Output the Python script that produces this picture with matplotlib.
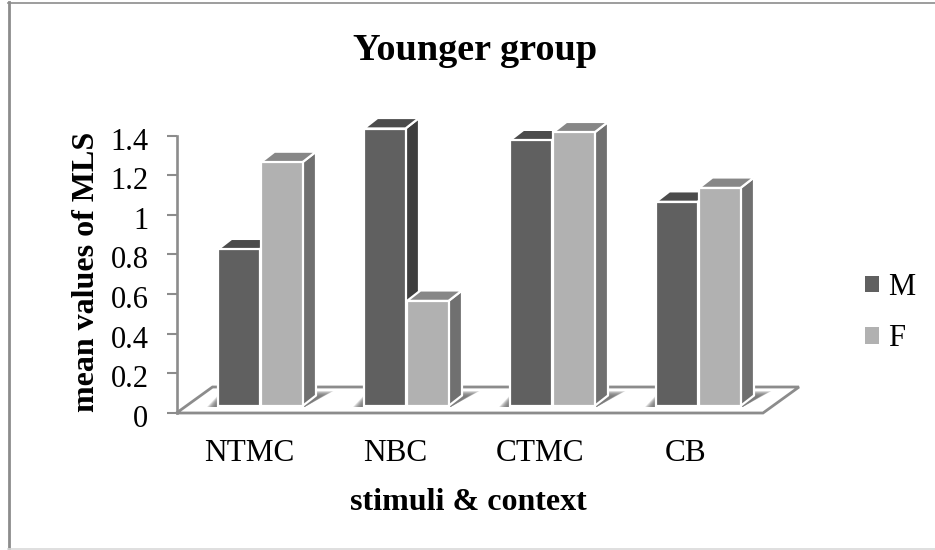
import matplotlib
matplotlib.use("Agg")
import matplotlib.pyplot as plt
from matplotlib.lines import Line2D
from matplotlib.patches import Polygon, Rectangle
from matplotlib.ticker import FixedLocator, FixedFormatter
from matplotlib.transforms import Affine2D

categories = ["NTMC", "NBC", "CTMC", "CB"]
series_names = ["M", "F"]
m_values = [0.79, 1.40, 1.34, 1.03]
f_values = [1.23, 0.53, 1.38, 1.10]
y_tick_values = [0, 0.2, 0.4, 0.6, 0.8, 1, 1.2, 1.4]
y_tick_labels = ["0", "0.2", "0.4", "0.6", "0.8", "1", "1.2", "1.4"]

W, H = 935, 550
plt.rcParams["font.family"] = ["Liberation Serif", "DejaVu Serif"]
fig = plt.figure(figsize=(W / 100, H / 100), dpi=100)

# plot area in pixels
L, R, T, B = 176.5, 758.5, 135.5, 413
ax = fig.add_axes([L / W, 1 - B / H, (R - L) / W, (B - T) / H])
ax.set_xlim(-0.5, 3.5)
ax.set_ylim(0, 1.4)
ax.patch.set_visible(False)
PX = 4 / (R - L)
PY = 1.4 / (B - T)

GREY = "#8c8c8c"
for s in ("top", "right", "bottom"):
    ax.spines[s].set_visible(False)
ax.spines["left"].set_color(GREY)
ax.spines["left"].set_linewidth(1.9)
ax.yaxis.set_major_locator(FixedLocator(y_tick_values))
ax.yaxis.set_major_formatter(FixedFormatter(y_tick_labels))
ax.tick_params(axis="y", direction="out", length=7.2, width=1.5, color=GREY, labelsize=22, pad=13)
ax.set_xticks(range(len(categories)), categories)
ax.tick_params(axis="x", length=0, labelsize=22.5, pad=18.5)
for lab in ax.get_yticklabels():
    lab.set_transform(lab.get_transform() + Affine2D().translate(0, -3))
ax.set_ylabel("mean values of MLS", fontsize=23, fontweight="bold")
ax.yaxis.label.set_verticalalignment("baseline")
ax.yaxis.set_label_coords((94 - L) / (R - L), (B - 271.5) / (B - T))
ax.set_xlabel("stimuli & context", fontsize=23, fontweight="bold")
ax.xaxis.label.set_verticalalignment("baseline")
ax.xaxis.set_label_coords((468 - L) / (R - L), (B - 510) / (B - T))
fig.text(475 / W, 1 - 60 / H, "Younger group", fontsize=27.5, fontweight="bold", ha="center", va="baseline")

# floor
floor_dx, floor_dy = 36 * PX, 26 * PY
floor_r = 3.5 + (763 - R) * PX
floor = Polygon([(-0.5, 0), (floor_r, 0), (floor_r + floor_dx, floor_dy), (-0.5 + floor_dx, floor_dy)],
                closed=True, fc="white", ec=GREY, lw=2, clip_on=False, zorder=1)
ax.add_patch(floor)

# bars
bar_w = 41.5 * PX
gap = 1.5 * PX
bar_pitch = 146 * PX
x_shift = 11 * PX
y_shift = 7 * PY
depth_x, depth_y = 13.5 * PX, 10.5 * PY
styles = {
    "M": ("#606060", "#4b4b4b", "#3e3e3e"),
    "F": ("#b1b1b1", "#878787", "#707070"),
}


def draw_bar(x0, value, colours, z):
    front, top, side = colours
    y0, y1 = y_shift, value + y_shift
    x1 = x0 + bar_w
    kw = dict(closed=True, ec="white", lw=1.6, clip_on=False, joinstyle="round", zorder=z)
    ax.add_patch(Polygon([(x1, y0), (x1 + depth_x, y0 + depth_y), (x1 + depth_x, y1 + depth_y), (x1, y1)], fc=side, **kw))
    ax.add_patch(Polygon([(x0, y1), (x1, y1), (x1 + depth_x, y1 + depth_y), (x0 + depth_x, y1 + depth_y)], fc=top, **kw))
    ax.add_patch(Rectangle((x0, y0), bar_w, value, fc=front, ec="white", lw=1.6, clip_on=False, zorder=z))


def draw_shadow(x0, x1):
    # soft shadow lying on the floor behind the base of a bar pair
    n = 12
    for k in range(n):
        g = k / (n - 1)
        ax.add_patch(Polygon([
            (x0 - (11 - 9 * g) * PX, y_shift - 1 * PY),
            (x1 + 2 * PX, y_shift - 1 * PY),
            (x1 + (31 - 12 * g) * PX, y_shift + (15 - 5 * g) * PY),
            (x0 + 4 * PX, y_shift + (15 - 5 * g) * PY)],
            closed=True, fc="#6e6e6e", ec="none", alpha=0.16, clip_on=False, zorder=2))


for i, (m, f) in enumerate(zip(m_values, f_values)):
    centre = i * bar_pitch + x_shift
    x_m = centre - bar_w - gap / 2
    x_f = centre + gap / 2
    draw_shadow(x_m, x_f + bar_w)
    z = 3 + i
    draw_bar(x_m, m, styles["M"], z)
    draw_bar(x_f, f, styles["F"], z + 0.5)

# legend
handles = [Rectangle((0, 0), 1, 1, fc=styles[n][0], ec="none") for n in series_names]
fig.legend(handles, series_names, loc="center left", bbox_to_anchor=(865 / W, 1 - 313 / H),
           frameon=False, fontsize=22, handlelength=0.46, handleheight=0.46,
           handletextpad=0.3, labelspacing=0.74, borderpad=0, borderaxespad=0)

# chart frame (open on the right)
frame = [
    ([9, 9], [2, H], 2.0, "#8c8c8c"),
    ([8, W], [2.5, 2.5], 1.2, "#8c8c8c"),
    ([8, W], [549, 549], 1.2, "#d9d9d9"),
]
for xs, ys, lw, c in frame:
    fig.add_artist(Line2D([x / W for x in xs], [1 - y / H for y in ys], transform=fig.transFigure, lw=lw, color=c))

fig.savefig("out.png", dpi=100, facecolor="white")
